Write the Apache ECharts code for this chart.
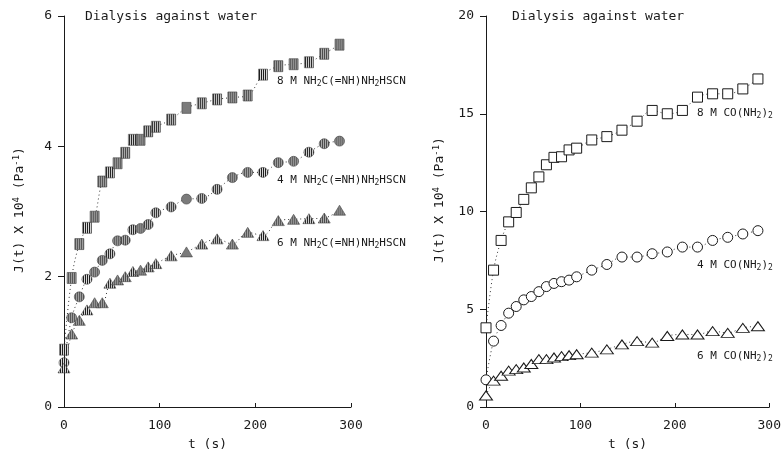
<!DOCTYPE html>
<html>
<head>
<meta charset="utf-8">
<script src="https://cdn.jsdelivr.net/npm/echarts@6/dist/echarts.min.js"></script>
<style>
html,body{margin:0;padding:0;background:#fff;}
#chart{width:784px;height:456px;}
</style>
</head>
<body>
<div id="chart"></div>
<script>
// ---- data ----
const times = [0, 8, 16, 24, 32, 40, 48, 56, 64, 72, 80, 88, 96, 112, 128, 144, 160, 176, 192, 208, 224, 240, 256, 272, 288];
const xTicks = [0, 100, 200, 300];
const leftYTicks = [0, 2, 4, 6];
const rightYTicks = [0, 5, 10, 15, 20];

// left panel: guanidine thiocyanate (J x 10^4, Pa^-1)
const guan8M = [0.88, 1.98, 2.5, 2.75, 2.92, 3.46, 3.6, 3.74, 3.9, 4.1, 4.1, 4.23, 4.3, 4.41, 4.59, 4.66, 4.72, 4.75, 4.78, 5.1, 5.23, 5.26, 5.29, 5.42, 5.56];
const guan4M = [0.68, 1.37, 1.69, 1.96, 2.07, 2.25, 2.35, 2.55, 2.56, 2.72, 2.74, 2.8, 2.98, 3.07, 3.19, 3.2, 3.34, 3.52, 3.6, 3.6, 3.75, 3.77, 3.91, 4.04, 4.08];
const guan6M = [0.6, 1.12, 1.33, 1.49, 1.6, 1.6, 1.9, 1.95, 2.0, 2.08, 2.1, 2.15, 2.2, 2.32, 2.38, 2.5, 2.58, 2.5, 2.68, 2.63, 2.86, 2.88, 2.89, 2.9, 3.02];

// right panel: urea
const urea8M = [4.05, 7.0, 8.52, 9.47, 9.95, 10.62, 11.21, 11.77, 12.39, 12.77, 12.8, 13.15, 13.24, 13.66, 13.83, 14.16, 14.62, 15.17, 15.0, 15.17, 15.85, 16.02, 16.02, 16.27, 16.78];
const urea4M = [1.39, 3.37, 4.17, 4.8, 5.14, 5.48, 5.65, 5.9, 6.16, 6.32, 6.41, 6.49, 6.66, 7.0, 7.29, 7.67, 7.67, 7.84, 7.93, 8.18, 8.18, 8.52, 8.68, 8.85, 9.02];
const urea6M = [0.59, 1.35, 1.6, 1.86, 1.94, 2.02, 2.2, 2.45, 2.45, 2.53, 2.6, 2.65, 2.7, 2.78, 2.95, 3.2, 3.37, 3.29, 3.63, 3.71, 3.71, 3.88, 3.79, 4.05, 4.13];

const titleText = 'Dialysis against water';
const leftLabels = ['8 M', '4 M', '6 M'];
const rightLabels = ['8 M', '4 M', '6 M'];

// ---- rendering ----
const mono = "'DejaVu Sans Mono', 'Liberation Mono', monospace";
const ink = '#1a1a1a';

function pairs(vals) { return times.map((t, i) => [t, vals[i]]); }

// vertical hatch pattern for left-panel markers (scaled back to device pixels)
const pc = document.createElement('canvas');
pc.width = 2; pc.height = 2;
const pctx = pc.getContext('2d');
pctx.fillStyle = '#d8d8d8'; pctx.fillRect(0, 0, 2, 2);
pctx.fillStyle = '#1e1e1e'; pctx.fillRect(0, 0, 1, 2);
function hatch(w, h) {
  return { image: pc, repeat: 'repeat', scaleX: 2 / w, scaleY: 2 / h };
}

const chart = echarts.init(document.getElementById('chart'), null, { renderer: 'canvas' });

function xAxis(grid) {
  return {
    gridIndex: grid, type: 'value', min: 0, max: 300, interval: 100,
    name: 't (s)', nameLocation: 'middle', nameGap: 31,
    nameTextStyle: { fontFamily: mono, fontSize: 13, color: ink },
    axisLine: { show: true, onZero: false, lineStyle: { color: ink, width: 1 } },
    axisTick: { show: true, inside: true, length: 4, lineStyle: { color: ink } },
    axisLabel: { margin: 12, fontFamily: mono, fontSize: 13, color: ink },
    splitLine: { show: false }
  };
}
function yAxis(grid, max, interval) {
  return {
    gridIndex: grid, type: 'value', min: 0, max: max, interval: interval,
    axisLine: { show: true, onZero: false, lineStyle: { color: ink, width: 1 } },
    axisTick: { show: true, inside: false, length: 6, lineStyle: { color: ink } },
    axisLabel: { margin: 12, fontFamily: mono, fontSize: 13, color: ink },
    splitLine: { show: false }
  };
}
function series(name, xi, vals, symbol, size, filled) {
  const w = Array.isArray(size) ? size[0] : size;
  const h = Array.isArray(size) ? size[1] : size;
  return {
    name: name, type: 'line', xAxisIndex: xi, yAxisIndex: xi,
    data: pairs(vals), smooth: 0.35, showAllSymbol: true,
    symbol: symbol, symbolSize: size,
    lineStyle: { color: '#333', width: 1, type: [1, 3] },
    itemStyle: filled ? { color: hatch(w, h), borderColor: '#444', borderWidth: 0.6 }
                      : { color: '#ffffff', borderColor: ink, borderWidth: 1 },
    emphasis: { disabled: true }, z: 3
  };
}

const rich = {
  n: { fontFamily: mono, fontSize: 11, lineHeight: 14, color: ink },
  s: { fontFamily: mono, fontSize: 8, lineHeight: 8, color: ink, verticalAlign: 'bottom' },
  N: { fontFamily: mono, fontSize: 13, lineHeight: 16, color: ink },
  p: { fontFamily: mono, fontSize: 9, lineHeight: 9, color: ink, verticalAlign: 'top' }
};
function txt(x, y, text, extra) {
  return Object.assign({
    type: 'text', x: x, y: y, silent: true,
    style: { text: text, rich: rich, fill: ink, align: 'left', verticalAlign: 'middle', font: '11px ' + mono }
  }, extra || {});
}
const guanText = m => '{n|' + m + ' NH}{s|2}{n|C(=NH)NH}{s|2}{n|HSCN}';
const ureaText = m => '{n|' + m + ' CO(NH}{s|2}{n|)}{s|2}';
const yName = '{N|J(t) X 10}{p|4}{N| (Pa}{p|-1}{N|)}';

chart.setOption({
  animation: false,
  backgroundColor: '#ffffff',
  grid: [
    { left: 64, top: 16, width: 287, height: 395 },
    { left: 486, top: 16, width: 286, height: 395 }
  ],
  xAxis: [xAxis(0), xAxis(1)],
  yAxis: [yAxis(0, leftYTicks[leftYTicks.length - 1], leftYTicks[1] - leftYTicks[0]),
          yAxis(1, rightYTicks[rightYTicks.length - 1], rightYTicks[1] - rightYTicks[0])],
  series: [
    series('8 M guan', 0, guan8M, 'rect', [9, 11], true),
    series('4 M guan', 0, guan4M, 'circle', 10, true),
    series('6 M guan', 0, guan6M, 'triangle', [12, 10], true),
    series('8 M urea', 1, urea8M, 'rect', 10, false),
    series('4 M urea', 1, urea4M, 'circle', 10, false),
    series('6 M urea', 1, urea6M, 'triangle', [13, 9], false)
  ],
  graphic: [
    txt(85, 17, titleText, { style: { text: titleText, fill: ink, font: '13px ' + mono, verticalAlign: 'middle' } }),
    txt(512, 17, titleText, { style: { text: titleText, fill: ink, font: '13px ' + mono, verticalAlign: 'middle' } }),
    txt(277, 81, guanText(leftLabels[0])),
    txt(277, 180, guanText(leftLabels[1])),
    txt(277, 243, guanText(leftLabels[2])),
    txt(697, 113, ureaText(rightLabels[0])),
    txt(697, 265, ureaText(rightLabels[1])),
    txt(697, 356, ureaText(rightLabels[2])),
    txt(20, 210, yName, { rotation: Math.PI / 2, style: { text: yName, rich: rich, fill: ink, align: 'center', verticalAlign: 'middle', font: '13px ' + mono } }),
    txt(440, 200, yName, { rotation: Math.PI / 2, style: { text: yName, rich: rich, fill: ink, align: 'center', verticalAlign: 'middle', font: '13px ' + mono } })
  ]
});
</script>
</body>
</html>
